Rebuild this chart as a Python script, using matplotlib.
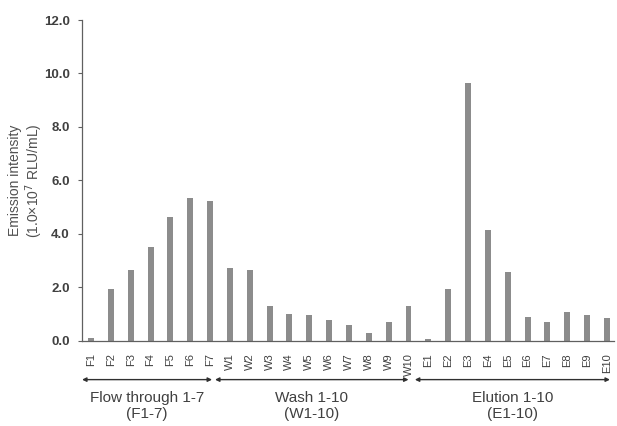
import matplotlib
matplotlib.use("Agg")
import matplotlib.pyplot as plt
import numpy as np

labels = ["F1","F2","F3","F4","F5","F6","F7",
          "W1","W2","W3","W4","W5","W6","W7","W8","W9","W10",
          "E1","E2","E3","E4","E5","E6","E7","E8","E9","E10"]
values = [0.10,1.92,2.65,3.50,4.62,5.33,5.22,
          2.72,2.65,1.32,1.00,0.97,0.78,0.58,0.28,0.70,1.30,
          0.05,1.92,9.65,4.15,2.57,0.90,0.70,1.08,0.95,0.85]
# group name, arrow start, arrow end (in bar positions)
groups = [("Flow through 1-7\n(F1-7)", -0.45, 6.1),
          ("Wash 1-10\n(W1-10)", 6.25, 16.0),
          ("Elution 1-10\n(E1-10)", 16.32, 26.15)]

txt = "#404040"
plt.rcParams["font.family"] = ["Liberation Sans", "DejaVu Sans"]
fig = plt.figure(figsize=(6.17, 4.26), dpi=100)
ax = fig.add_axes([0.133, 0.2, 0.862, 0.753])
x = np.arange(len(labels))
ax.bar(x, values, width=0.3, color="#8c8c8c")
ax.set_xlim(-0.45, 26.35)
ax.set_ylim(0, 12)
yt = np.arange(0, 12.1, 2)
ax.set_yticks(yt)
ax.set_yticklabels([f"{v:.1f}" for v in yt], fontsize=9.5, color=txt, fontweight="bold")
ax.set_xticks(x)
ax.set_xticklabels(labels, rotation=90, fontsize=8, color=txt)
ax.tick_params(axis="x", length=0, pad=9)
ax.tick_params(axis="y", length=3, color="#606060", width=0.8, pad=6)
for s in ("top", "right"):
    ax.spines[s].set_visible(False)
for s in ("left", "bottom"):
    ax.spines[s].set_color("#606060")
    ax.spines[s].set_linewidth(0.9)
ax.set_ylabel("Emission intensity\n(1.0\u00d710$^7$ RLU/mL)", fontsize=10, color="#505050",
              linespacing=1.05)
ax.yaxis.set_label_coords(-0.07, 0.5)

trans = ax.get_xaxis_transform()
for name, a, b in groups:
    ax.annotate("", xy=(b, -0.121), xytext=(a, -0.121), xycoords=trans, textcoords=trans,
                arrowprops=dict(arrowstyle="<|-|>", color="#303030", lw=1.0, mutation_scale=6,
                                shrinkA=0, shrinkB=0), annotation_clip=False)
    ax.text((a + b) / 2, -0.204, name, transform=trans, ha="center", va="center",
            fontsize=11, color=txt, linespacing=1.15)

fig.savefig("out.png", dpi=100)
